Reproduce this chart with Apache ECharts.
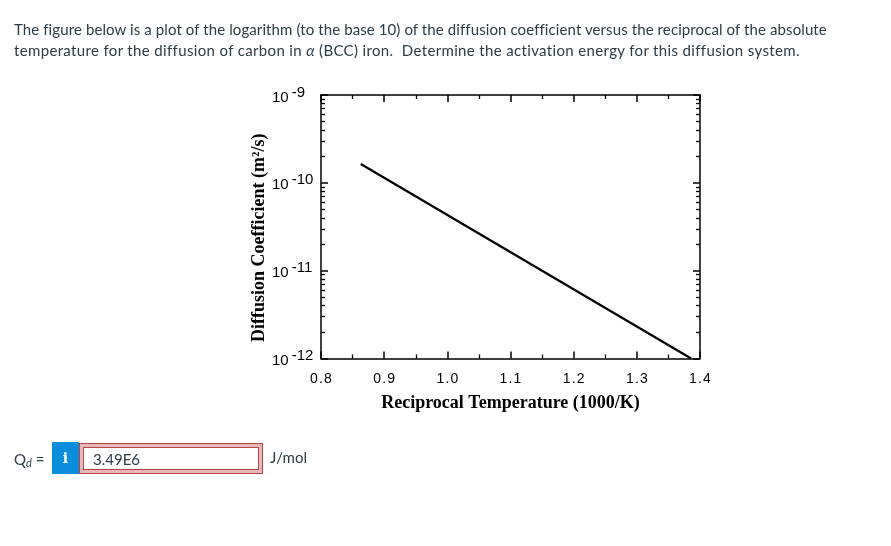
<!DOCTYPE html>
<html>
<head>
<meta charset="utf-8">
<script src="https://cdn.jsdelivr.net/npm/echarts@6/dist/echarts.min.js"></script>
<style>
  html, body { margin: 0; padding: 0; background: #fff; }
  body { width: 891px; height: 546px; position: relative; overflow: hidden; font-family: Lato, "Noto Sans", sans-serif; color: #2d3b45; }
  #chart { position: absolute; left: 0; top: 0; width: 891px; height: 546px; }
  #question { position: absolute; left: 14px; top: 19px; width: 877px; font-size: 15px; line-height: 21px; white-space: nowrap; }
  #l1 { letter-spacing: 0.1px; }
  #l2 { letter-spacing: 0.35px; }
  #qlabel { position: absolute; left: 14px; top: 449px; font-size: 15px; line-height: 20px; }
  #qlabel sub { font-style: italic; font-size: 11px; vertical-align: -2px; }
  #info { position: absolute; left: 52px; top: 442px; width: 27px; height: 32px; background: #0a8ddc; color: #fff;
          font-family: "DejaVu Serif", serif; font-weight: bold; font-size: 14px; line-height: 32px; text-align: center; }
  #answer { position: absolute; left: 79px; top: 443px; width: 182px; height: 29px; border: 1px solid #b54646;
            box-shadow: inset 0 0 0 3px #e8b8b8, inset 0 0 0 4px #b54646; box-sizing: content-box;
            font-size: 15px; line-height: 29px; }
  #answer span { position: absolute; left: 13px; top: 1px; }
  #unit { position: absolute; left: 270px; top: 447px; font-size: 15px; line-height: 20px; }
</style>
</head>
<body>
<div id="chart"></div>
<div id="question"><div id="l1">The figure below is a plot of the logarithm (to the base 10) of the diffusion coefficient versus the reciprocal of the absolute</div><div id="l2">temperature for the diffusion of carbon in <i>α</i> (BCC) iron.&nbsp; Determine the activation energy for this diffusion system.</div></div>
<div id="qlabel">Q<sub>d</sub> =</div>
<div id="info">i</div>
<div id="answer"><span>3.49E6</span></div>
<div id="unit">J/mol</div>
<script>
// ---- data ----
const xTickLabels = [0.8, 0.9, 1.0, 1.1, 1.2, 1.3, 1.4];      // reciprocal temperature (1000/K)
const yDecadeExponents = [-12, -11, -10, -9];                 // D axis decades (10^n m^2/s)
const minorMultipliers = [2, 3, 4, 5, 6, 7, 8, 9];           // log minor ticks within each decade
const reciprocalT = [0.863, 1.386];                           // line end points, x
const diffusionCoef = [1.64e-10, 1.0e-12];                    // line end points, D (m^2/s)

// ---- build options ----
const xMin = xTickLabels[0], xMax = xTickLabels[xTickLabels.length - 1];
const yMinExp = yDecadeExponents[0], yMaxExp = yDecadeExponents[yDecadeExponents.length - 1];
const minorLogValues = [];
yDecadeExponents.slice(0, -1).forEach(e => minorMultipliers.forEach(m => minorLogValues.push(e + Math.log10(m))));

const black = '#000';
const lineStyle = { color: black, width: 1.5 };
const labelFont = 'Liberation Sans, Arial, sans-serif';
const titleFont = 'Liberation Serif, Times New Roman, serif';

function xAxisDef(position, showLabel) {
  return {
    type: 'value', position: position, min: xMin, max: xMax, interval: 0.1,
    axisLine: { show: true, onZero: false, lineStyle: lineStyle },
    axisTick: { show: true, inside: true, length: 7, lineStyle: lineStyle },
    minorTick: { show: true, splitNumber: 2, length: 4, lineStyle: { color: black, width: 1.3 } },
    splitLine: { show: false }, minorSplitLine: { show: false },
    axisLabel: {
      show: showLabel, margin: 14, color: black, fontFamily: labelFont, fontSize: 14,
      formatter: v => v.toFixed(1).split('').join('\u200A')
    },
    name: showLabel ? 'Reciprocal Temperature (1000/K)' : '',
    nameLocation: 'middle', nameGap: 36,
    nameTextStyle: { fontFamily: titleFont, fontWeight: 'bold', fontSize: 18, color: black }
  };
}

function yLogAxisDef(position, showLabel) {
  return {
    type: 'log', logBase: 10, position: position,
    min: Math.pow(10, yMinExp), max: Math.pow(10, yMaxExp), splitNumber: 3,
    axisLine: { show: true, onZero: false, lineStyle: lineStyle },
    axisTick: { show: true, inside: true, length: 7, lineStyle: lineStyle },
    splitLine: { show: false }, minorSplitLine: { show: false },
    axisLabel: {
      show: showLabel, align: 'left', margin: 49, color: black, fontFamily: labelFont, fontSize: 15,
      formatter: v => '{b|10}{s|' + Math.round(Math.log10(v)) + '}',
      rich: {
        b: { fontFamily: labelFont, fontSize: 15, color: black, lineHeight: 20, verticalAlign: 'bottom' },
        s: { fontFamily: labelFont, fontSize: 15, color: black, lineHeight: 15, verticalAlign: 'top', padding: [0, 0, 0, 3] }
      }
    },
    name: showLabel ? 'Diffusion Coefficient (m²/s)' : '',
    nameLocation: 'middle', nameGap: 53,
    nameTextStyle: { fontFamily: titleFont, fontWeight: 'bold', fontSize: 18, color: black, padding: [0, 22, 0, 0] }
  };
}

function yMinorAxisDef(position) {
  return {
    type: 'value', position: position, min: yMinExp, max: yMaxExp,
    axisLine: { show: false }, axisLabel: { show: false }, splitLine: { show: false },
    axisTick: { show: true, inside: true, length: 4, lineStyle: { color: black, width: 1.3 }, customValues: minorLogValues }
  };
}

const chart = echarts.init(document.getElementById('chart'), null, { renderer: 'canvas' });
chart.setOption({
  animation: false,
  backgroundColor: 'transparent',
  grid: { left: 321, top: 95, width: 379, height: 263.5, containLabel: false },
  xAxis: [xAxisDef('bottom', true), xAxisDef('top', false)],
  yAxis: [yLogAxisDef('left', true), yLogAxisDef('right', false), yMinorAxisDef('left'), yMinorAxisDef('right')],
  series: [{
    type: 'line', xAxisIndex: 0, yAxisIndex: 0, symbol: 'none',
    lineStyle: { color: black, width: 2.2 },
    data: reciprocalT.map((x, i) => [x, diffusionCoef[i]])
  }]
});
</script>
</body>
</html>
